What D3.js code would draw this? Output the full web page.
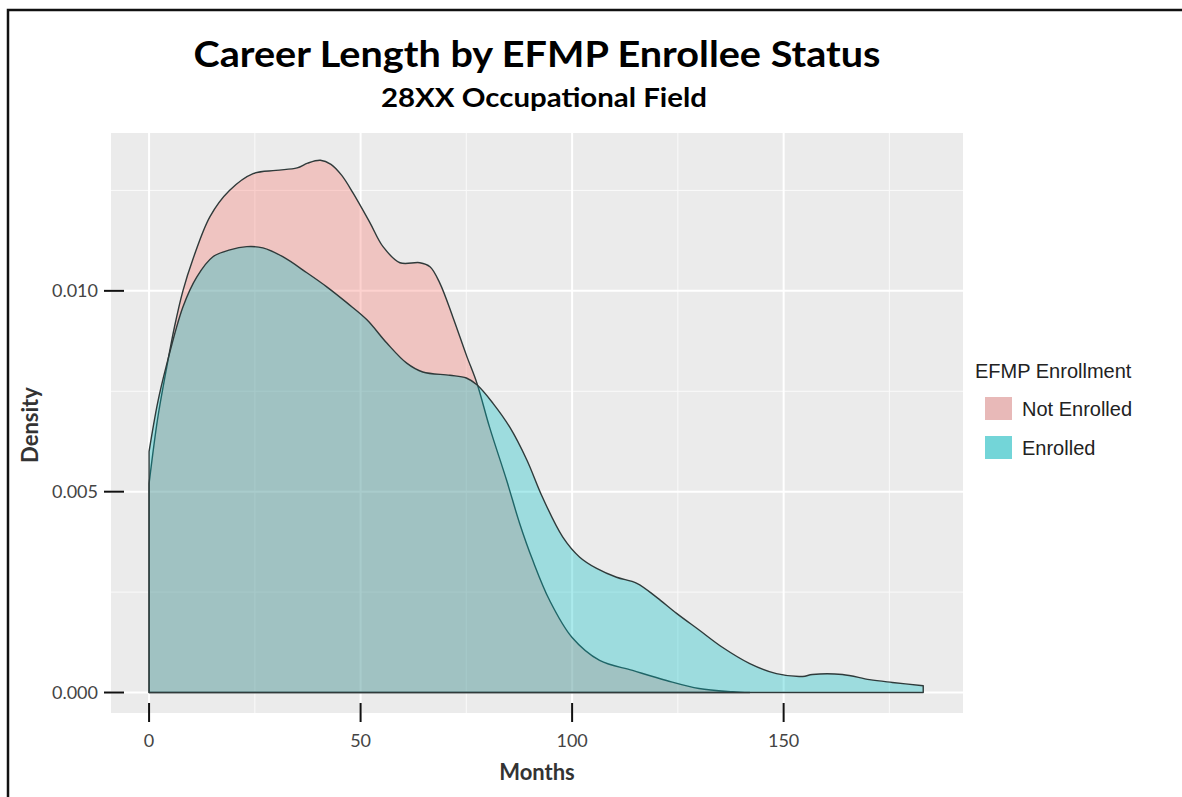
<!DOCTYPE html>
<html lang="en">
<head>
    <meta charset="UTF-8">
    <title>Career Length by EFMP Enrollee Status</title>
    <style>
        body { margin: 0; background: #fff; }
        svg { display: block; }
        .title { font-family: Lato, "Open Sans", sans-serif; font-weight: bold; fill: #000; }
        .tick-label { font-family: Lato, "Open Sans", sans-serif; font-size: 18px; fill: #444; }
        .axis-title { font-family: Lato, "Open Sans", sans-serif; font-weight: bold; font-size: 22px; fill: #333; }
        .legend-text { font-family: "Liberation Sans", Arial, sans-serif; font-size: 20px; fill: #222; }
    </style>
</head>
<body>
    <script src="https://d3js.org/d3.v7.min.js"></script>
    <script>
// values
const notEnrolledMonths = [0, 2, 4, 6, 8, 10.4, 14.4, 19, 24.6, 30, 35, 37.5, 40.5, 43, 45.5, 48.2, 52.2, 55.3, 59.3, 64, 66.4, 68.7, 71.8, 75, 77.5, 80.5, 84.5, 87.6, 90.7, 94.7, 100, 106.5, 114.3, 122.3, 130, 138, 142];
const notEnrolledDensity = [0.0052, 0.0068, 0.0080, 0.0091, 0.0100, 0.0108, 0.01185, 0.0125, 0.01292, 0.0130, 0.01306, 0.01318, 0.01325, 0.01315, 0.01288, 0.01244, 0.0117, 0.0111, 0.0107, 0.0107, 0.0106, 0.0102, 0.00935, 0.0084, 0.0077, 0.0066, 0.00529, 0.00421, 0.00329, 0.00229, 0.00137, 0.0008, 0.00055, 0.0003, 0.0001, 0.00002, 0.0];

const enrolledMonths = [0, 2, 4, 8, 11.3, 15.1, 19.1, 23.1, 26.9, 31.6, 37.3, 42, 46.8, 51.5, 56.2, 60.9, 64.7, 71.1, 75, 77.5, 81.3, 85.3, 89.3, 93, 97.8, 101.8, 105.8, 110.5, 115.3, 120, 124.7, 130.1, 135.6, 142, 148.3, 154.5, 156.8, 163.9, 170.3, 175.7, 183];
const enrolledDensity = [0.0060, 0.0072, 0.0081, 0.0096, 0.01035, 0.01085, 0.01102, 0.0111, 0.01107, 0.01085, 0.01045, 0.0101, 0.0097, 0.00928, 0.0087, 0.0082, 0.00798, 0.0079, 0.00783, 0.00766, 0.0072, 0.0066, 0.00579, 0.00486, 0.00387, 0.00337, 0.00309, 0.00287, 0.00272, 0.00237, 0.00197, 0.00155, 0.00112, 0.00072, 0.00047, 0.0004, 0.00045, 0.00045, 0.00032, 0.00025, 0.00017];

const groups = ["Not Enrolled", "Enrolled"];
const groupColors = ["#F8766D", "#00BFC4"];
const legendKeyColors = ["#e8b9b8", "#73d5d8"];

const xTicks = [0, 50, 100, 150];
const xMinor = [25, 75, 125, 175];
const yTicks = [0, 0.005, 0.010];
const yMinor = [0.0025, 0.0075, 0.0125];

const width = 1182, height = 797;
const panel = { left: 111, right: 963, top: 133, bottom: 713 };

const svg = d3.select("body").append("svg")
    .attr("width", width)
    .attr("height", height);

// outer frame of the picture
svg.append("path")
    .attr("d", "M8," + (height + 5) + " V10 H" + (width + 5))
    .attr("fill", "none")
    .attr("stroke", "#111")
    .attr("stroke-width", 2.5);

const x = d3.scaleLinear().domain([-9, 192.4]).range([panel.left, panel.right]);
const y = d3.scaleLinear().domain([-0.00051, 0.01393]).range([panel.bottom, panel.top]);

// panel background + grid
svg.append("rect")
    .attr("x", panel.left)
    .attr("y", panel.top)
    .attr("width", panel.right - panel.left)
    .attr("height", panel.bottom - panel.top)
    .attr("fill", "#ebebeb");

const grid = svg.append("g");
grid.selectAll(".ymin").data(yMinor).join("line")
    .attr("x1", panel.left).attr("x2", panel.right)
    .attr("y1", d => y(d)).attr("y2", d => y(d))
    .attr("stroke", "#fafafa").attr("stroke-width", 1);
grid.selectAll(".xmin").data(xMinor).join("line")
    .attr("y1", panel.top).attr("y2", panel.bottom)
    .attr("x1", d => x(d)).attr("x2", d => x(d))
    .attr("stroke", "#fafafa").attr("stroke-width", 1);
grid.selectAll(".ymaj").data(yTicks).join("line")
    .attr("x1", panel.left).attr("x2", panel.right)
    .attr("y1", d => y(d)).attr("y2", d => y(d))
    .attr("stroke", "#fff").attr("stroke-width", 2);
grid.selectAll(".xmaj").data(xTicks).join("line")
    .attr("y1", panel.top).attr("y2", panel.bottom)
    .attr("x1", d => x(d)).attr("x2", d => x(d))
    .attr("stroke", "#fff").attr("stroke-width", 2);

// density areas
const area = d3.area()
    .x(d => x(d[0]))
    .y0(y(0))
    .y1(d => y(d[1]))
    .curve(d3.curveCatmullRom.alpha(0.5));

const series = [
    d3.zip(notEnrolledMonths, notEnrolledDensity),
    d3.zip(enrolledMonths, enrolledDensity)
];

series.forEach((pts, i) => {
    // close the outline down to zero at both ends, like the full outline in the picture
    const p = area(pts) + "Z";
    svg.append("path")
        .attr("d", p)
        .attr("fill", groupColors[i])
        .attr("fill-opacity", 0.33)
        .attr("stroke", "#2f3a3a")
        .attr("stroke-width", 1.4)
        .attr("stroke-linejoin", "round");
});

// axes: long black tick marks like the picture
svg.append("g").selectAll("line").data(yTicks).join("line")
    .attr("x1", 104).attr("x2", 124)
    .attr("y1", d => y(d)).attr("y2", d => y(d))
    .attr("stroke", "#111").attr("stroke-width", 2);
svg.append("g").selectAll("text").data(yTicks).join("text")
    .attr("class", "tick-label")
    .attr("x", 98)
    .attr("y", d => y(d) + 6)
    .attr("text-anchor", "end")
    .text(d => d3.format(".3f")(d));

svg.append("g").selectAll("line").data(xTicks).join("line")
    .attr("x1", d => x(d)).attr("x2", d => x(d))
    .attr("y1", 703).attr("y2", 722)
    .attr("stroke", "#111").attr("stroke-width", 2);
svg.append("g").selectAll("text").data(xTicks).join("text")
    .attr("class", "tick-label")
    .attr("x", d => x(d))
    .attr("y", 747)
    .attr("text-anchor", "middle")
    .text(d => d);

// titles
svg.append("text")
    .attr("class", "title")
    .attr("x", 537).attr("y", 67)
    .attr("text-anchor", "middle")
    .attr("font-size", 36)
    .attr("textLength", 687)
    .attr("lengthAdjust", "spacingAndGlyphs")
    .text("Career Length by EFMP Enrollee Status");
svg.append("text")
    .attr("class", "title")
    .attr("x", 544).attr("y", 107)
    .attr("text-anchor", "middle")
    .attr("font-size", 26)
    .attr("textLength", 326)
    .attr("lengthAdjust", "spacingAndGlyphs")
    .text("28XX Occupational Field");

svg.append("text")
    .attr("class", "axis-title")
    .attr("x", 537).attr("y", 780)
    .attr("text-anchor", "middle")
    .text("Months");
svg.append("text")
    .attr("class", "axis-title")
    .attr("transform", "translate(38,425) rotate(-90)")
    .attr("text-anchor", "middle")
    .text("Density");

// legend
const legend = svg.append("g");
legend.append("text")
    .attr("class", "legend-text")
    .attr("x", 975).attr("y", 378)
    .text("EFMP Enrollment");
const items = legend.selectAll(".item").data(groups).join("g")
    .attr("transform", (d, i) => "translate(985," + (397 + i * 39) + ")");
items.append("rect")
    .attr("width", 27).attr("height", 23)
    .attr("fill", (d, i) => legendKeyColors[i]);
items.append("text")
    .attr("class", "legend-text")
    .attr("x", 37).attr("y", 19)
    .text(d => d);
    </script>
</body>
</html>
